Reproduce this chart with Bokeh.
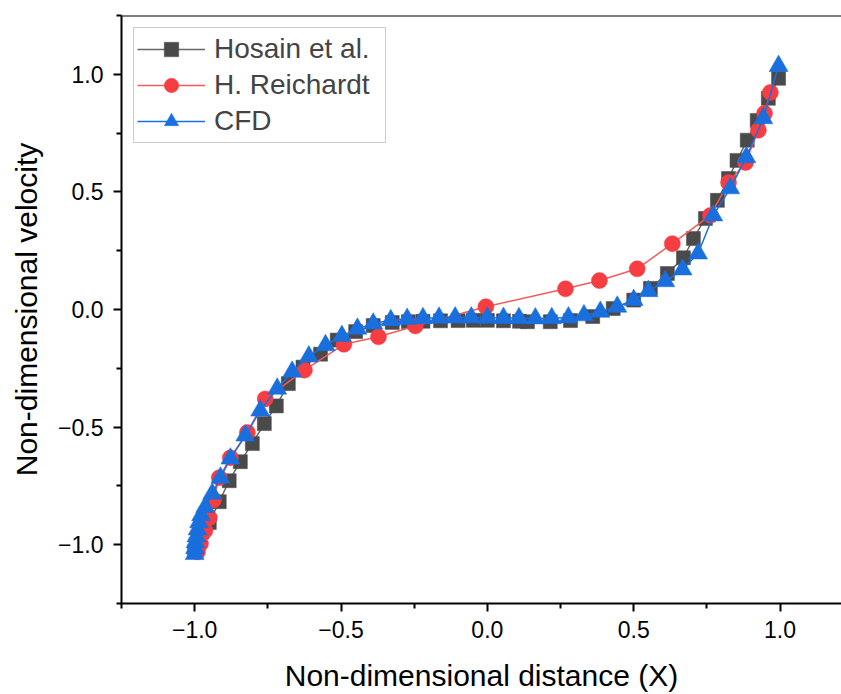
from bokeh.plotting import figure
from bokeh.embed import file_html
from bokeh.resources import INLINE
from bokeh.models import FixedTicker, Span, Range1d

# ---------------- data ----------------
hosain_x = [-1.000, -0.995, -0.988, -0.975, -0.950, -0.916, -0.882, -0.844, -0.803,
            -0.762, -0.721, -0.680, -0.630, -0.570, -0.513, -0.450, -0.390, -0.325,
            -0.270, -0.220, -0.160, -0.100, -0.048, 0.000, 0.055, 0.110, 0.137,
            0.215, 0.284, 0.360, 0.430, 0.500, 0.557, 0.615, 0.670, 0.704, 0.745,
            0.786, 0.824, 0.853, 0.888, 0.922, 0.960, 0.995]
hosain_y = [-1.030, -1.000, -0.970, -0.945, -0.906, -0.817, -0.728, -0.647, -0.570,
            -0.485, -0.410, -0.315, -0.245, -0.190, -0.130, -0.094, -0.068, -0.055,
            -0.052, -0.050, -0.048, -0.047, -0.046, -0.046, -0.048, -0.050, -0.052,
            -0.052, -0.047, -0.030, 0.004, 0.040, 0.090, 0.153, 0.220, 0.302, 0.387,
            0.464, 0.557, 0.634, 0.720, 0.804, 0.898, 0.983]

reich_x = [-0.990, -0.980, -0.965, -0.950, -0.936, -0.916, -0.878, -0.820, -0.759,
           -0.625, -0.490, -0.372, -0.246, -0.005, 0.267, 0.383, 0.512, 0.632,
           0.762, 0.824, 0.882, 0.926, 0.947, 0.967]
reich_y = [-1.030, -0.995, -0.940, -0.885, -0.810, -0.715, -0.630, -0.523, -0.380,
           -0.258, -0.148, -0.116, -0.070, 0.012, 0.088, 0.123, 0.173, 0.280,
           0.400, 0.540, 0.625, 0.762, 0.834, 0.923]

cfd_x = [-1.000, -0.999, -0.997, -0.994, -0.990, -0.985, -0.978, -0.964, -0.940,
         -0.912, -0.878, -0.827, -0.776, -0.718, -0.667, -0.610, -0.553, -0.497,
         -0.444, -0.390, -0.330, -0.274, -0.220, -0.165, -0.110, -0.055, 0.000,
         0.055, 0.108, 0.164, 0.220, 0.277, 0.330, 0.386, 0.444, 0.500, 0.550,
         0.608, 0.667, 0.720, 0.772, 0.830, 0.885, 0.943, 0.995]
cfd_y = [-1.040, -1.015, -0.990, -0.965, -0.935, -0.905, -0.875, -0.840, -0.783,
         -0.715, -0.634, -0.536, -0.430, -0.337, -0.265, -0.200, -0.152, -0.113,
         -0.082, -0.060, -0.046, -0.040, -0.037, -0.035, -0.034, -0.034, -0.035,
         -0.036, -0.037, -0.038, -0.037, -0.034, -0.025, -0.010, 0.012, 0.040,
         0.078, 0.120, 0.170, 0.238, 0.400, 0.515, 0.647, 0.813, 1.035]

major_ticks = [-1.0, -0.5, 0.0, 0.5, 1.0]
minor_ticks = [-1.25, -0.75, -0.25, 0.25, 0.75, 1.25]
tick_labels = ["\u22121.0", "\u22120.5", "0.0", "0.5", "1.0"]

FONT = "Liberation Sans"

p = figure(width=841, height=694, output_backend="svg", toolbar_location=None,
           x_range=Range1d(-1.25, 1.21), y_range=Range1d(-1.25, 1.25),
           min_border_left=121, min_border_right=0, min_border_top=15,
           min_border_bottom=90)
p.outline_line_color = None
p.xgrid.visible = False
p.ygrid.visible = False
p.background_fill_color = "white"
p.border_fill_color = "white"

# top frame line
p.add_layout(Span(location=1.25, dimension="width", line_color="black", line_width=2))

series = [
    (hosain_x, hosain_y, "Hosain et al.", "#4A4A4A", "#666666", "square", 14),
    (reich_x, reich_y, "H. Reichardt", "#F53D42", "#F45A5A", "circle", 16),
    (cfd_x, cfd_y, "CFD", "#1A6FDF", "#1A6FDF", "triangle", 19),
]
for xs, ys, lab, col, lcol, mk, sz in series:
    p.line(xs, ys, line_color=lcol, line_width=1.5, legend_label=lab)
    p.scatter(xs, ys, marker=mk, size=sz, fill_color=col, line_color=col,
              line_width=0.5, legend_label=lab)

for ax in (p.xaxis[0], p.yaxis[0]):
    ax.ticker = FixedTicker(ticks=major_ticks, minor_ticks=minor_ticks)
    ax.major_label_overrides = {t: l for t, l in zip(major_ticks, tick_labels)}
    ax.axis_line_width = 2
    ax.axis_line_color = "black"
    ax.major_tick_line_width = 2
    ax.minor_tick_line_width = 2
    ax.major_tick_in = 0
    ax.major_tick_out = 8
    ax.minor_tick_in = 0
    ax.minor_tick_out = 5
    ax.major_label_text_font = FONT
    ax.major_label_text_font_size = "23px"
    ax.major_label_text_color = "black"
    ax.axis_label_text_font = FONT
    ax.axis_label_text_font_size = "30px"
    ax.axis_label_text_font_style = "normal"
    ax.axis_label_text_color = "black"

p.xaxis.axis_label = "Non-dimensional distance (X)"
p.yaxis.axis_label = "Non-dimensional velocity"
p.xaxis.major_label_standoff = 9
p.xaxis.axis_label_standoff = 18
p.yaxis.major_label_standoff = 10
p.yaxis.axis_label_standoff = 12

lg = p.legend[0]
lg.location = "top_left"
lg.margin = 12
lg.padding = 3
lg.spacing = 0
lg.label_height = 36
lg.glyph_height = 36
lg.glyph_width = 68
lg.label_width = 168
lg.label_standoff = 9
lg.label_text_font = FONT
lg.label_text_font_size = "28px"
lg.border_line_color = "#999999"
lg.border_line_width = 1.5
lg.background_fill_alpha = 1.0

open("out.html", "w").write(file_html(p, INLINE))
